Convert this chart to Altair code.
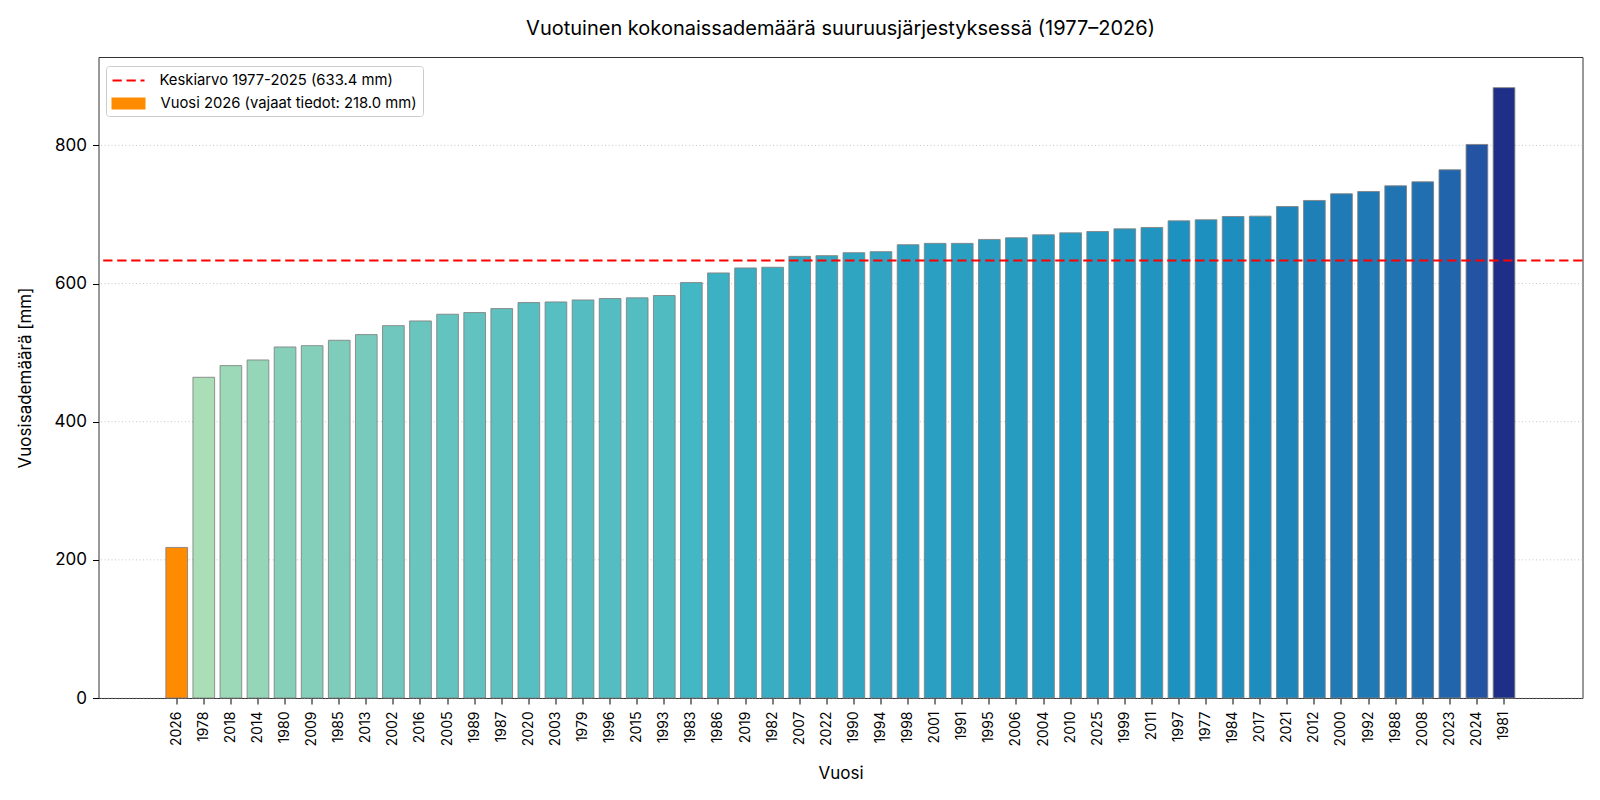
import altair as alt
import pandas as pd

# ---------------- data ----------------
years = ["2026", "1978", "2018", "2014", "1980", "2009", "1985", "2013", "2002", "2016",
         "2005", "1989", "1987", "2020", "2003", "1979", "1996", "2015", "1993", "1983",
         "1986", "2019", "1982", "2007", "2022", "1990", "1994", "1998", "2001", "1991",
         "1995", "2006", "2004", "2010", "2025", "1999", "2011", "1997", "1977", "1984",
         "2017", "2021", "2012", "2000", "1992", "1988", "2008", "2023", "2024", "1981"]
values = [218.0, 464.3, 481.2, 489.4, 508.2, 510.1, 517.9, 526.1, 539.1, 545.9,
          555.6, 558.0, 563.8, 572.5, 573.4, 576.3, 578.4, 579.3, 582.7, 601.4,
          615.4, 622.6, 623.6, 639.4, 640.4, 644.7, 646.2, 656.3, 658.2, 658.2,
          663.9, 666.3, 670.6, 673.4, 675.4, 679.2, 681.2, 690.8, 692.3, 697.1,
          697.6, 711.6, 720.3, 730.0, 733.3, 741.5, 747.3, 764.7, 801.4, 883.6]
partial_year = "2026"
mean_value = 633.4
mean_label = "Keskiarvo 1977-2025 (633.4 mm)"
partial_label = "Vuosi 2026 (vajaat tiedot: 218.0 mm)"
y_ticks = [0, 200, 400, 600, 800]
title_text = "Vuotuinen kokonaissademäärä suuruusjärjestyksessä (1977–2026)"

# ---------------- colour map (YlGnBu, linear segments) ----------------
ylgnbu = ["#ffffd9", "#edf8b1", "#c7e9b4", "#7fcdbb", "#41b6c4",
          "#1d91c0", "#225ea8", "#253494", "#081d58"]


def cmap(t):
    pos = t * (len(ylgnbu) - 1)
    i = min(int(pos), len(ylgnbu) - 2)
    f = pos - i
    a = [int(ylgnbu[i][k:k + 2], 16) for k in (1, 3, 5)]
    b = [int(ylgnbu[i + 1][k:k + 2], 16) for k in (1, 3, 5)]
    return "#" + "".join(f"{round(a[j] + (b[j] - a[j]) * f):02x}" for j in range(3))


df = pd.DataFrame({"year": years, "value": values})
full = df[df["year"] != partial_year].copy()
part = df[df["year"] == partial_year].copy()
part["plabel"] = partial_label
mean_df = pd.DataFrame({"value": [mean_value], "mlabel": [mean_label]})
grid_df = pd.DataFrame({"tick": y_ticks})

t_lo, t_hi = 0.3, 0.9
vmin, vmax = full["value"].min(), full["value"].max()
stops = [t_lo] + [k / 8 for k in range(9) if t_lo < k / 8 < t_hi] + [t_hi]
c_domain = [vmin + (t - t_lo) / (t_hi - t_lo) * (vmax - vmin) for t in stops]
c_range = [cmap(t) for t in stops]

FONT = "Inter"
W, H = 1484, 641
STEP = 27.088
X0 = 78.2 - 0.5 * STEP          # left end of the band range (matplotlib-like margins)
X1 = X0 + len(years) * STEP
Y_SCALE = alt.Scale(domain=[0, 928], nice=False, zero=True)

x_enc = alt.X(
    "year:N", sort=years,
    scale=alt.Scale(paddingInner=0.2, paddingOuter=0.1, range=[X0, X1]),
    axis=alt.Axis(title="Vuosi", labelAngle=270, labelFontSize=14, labelFont=FONT,
                  labelColor="black", labelPadding=7, tickSize=6, tickColor="black",
                  tickWidth=1, domain=False, grid=False, titleFont=FONT, titleFontSize=17,
                  titleFontWeight="normal", titleColor="black", titleX=W / 2, titleY=75,
                  titleAlign="center", titleBaseline="middle"),
)
y_enc = alt.Y(
    "value:Q",
    scale=Y_SCALE,
    axis=alt.Axis(title="Vuosisademäärä [mm]", values=y_ticks, grid=False,
                  domain=False, tickSize=6, tickColor="black", tickWidth=1,
                  labelFontSize=17, labelFont=FONT, labelColor="black", labelPadding=6,
                  titleFont=FONT, titleFontSize=17, titleFontWeight="normal",
                  titleColor="black", titleX=-73, titleY=H / 2, titleAngle=270,
                  titleAlign="center", titleBaseline="middle"),
)

grid = alt.Chart(grid_df).mark_rule(
    strokeDash=[1, 2.5], color="#b8b8b8", strokeWidth=0.8
).encode(y=alt.Y("tick:Q", scale=Y_SCALE))

bars = alt.Chart(full).mark_bar(stroke="#808080", strokeWidth=1, strokeOpacity=0.85).encode(
    x=x_enc, y=y_enc,
    fill=alt.Fill("value:Q", scale=alt.Scale(domain=c_domain, range=c_range, interpolate="rgb"),
                  legend=None),
)

bar_part = alt.Chart(part).mark_bar(stroke="#808080", strokeWidth=1, strokeOpacity=0.85).encode(
    x=x_enc, y=y_enc,
    color=alt.Color(
        "plabel:N",
        scale=alt.Scale(domain=[" ", partial_label], range=["rgba(0,0,0,0)", "#ff8c00"]),
        legend=alt.Legend(
            title=None, orient="none", legendX=7.5, legendY=9.0,
            symbolType="M-2.125,-0.75H2.125V0.75H-2.125Z", symbolSize=256,
            symbolStrokeWidth=0, symbolOffset=9, labelOffset=24,
            labelFont=FONT, labelFontSize=14.8, labelColor="black", labelLimit=500,
            rowPadding=9, padding=5.5, strokeColor="#cccccc", fillColor="white",
            cornerRadius=3, zindex=1,
        ),
    ),
)

mean_rule = alt.Chart(mean_df).mark_rule(strokeDash=[9.3, 4.7], strokeWidth=1.8).encode(
    y=alt.Y("value:Q", scale=Y_SCALE),
    stroke=alt.Stroke(
        "mlabel:N",
        scale=alt.Scale(domain=[mean_label], range=["#ff0000"]),
        legend=alt.Legend(
            title=None, orient="none", legendX=7.5, legendY=9.0,
            symbolType="M-2,0H2", symbolSize=256, symbolStrokeWidth=1.8,
            symbolDash=[9.3, 4.7], symbolOffset=8, labelOffset=22,
            labelFont=FONT, labelFontSize=14.8, labelColor="black", labelLimit=500,
            padding=5.5, zindex=2,
        ),
    ),
)

chart = alt.layer(grid, bars, bar_part, mean_rule).properties(
    width=W, height=H,
    title=alt.Title(title_text, font=FONT, fontSize=20, fontWeight="normal",
                    color="black", anchor="middle", offset=18),
    autosize=alt.AutoSizeParams(type="none"),
    padding={"left": 90.5, "top": 49, "right": 9, "bottom": 94},
).configure(
    background="white"
).configure_view(
    stroke="#333333", strokeWidth=1
)

chart.save("out.html", embed_options={"renderer": "svg", "actions": False})
